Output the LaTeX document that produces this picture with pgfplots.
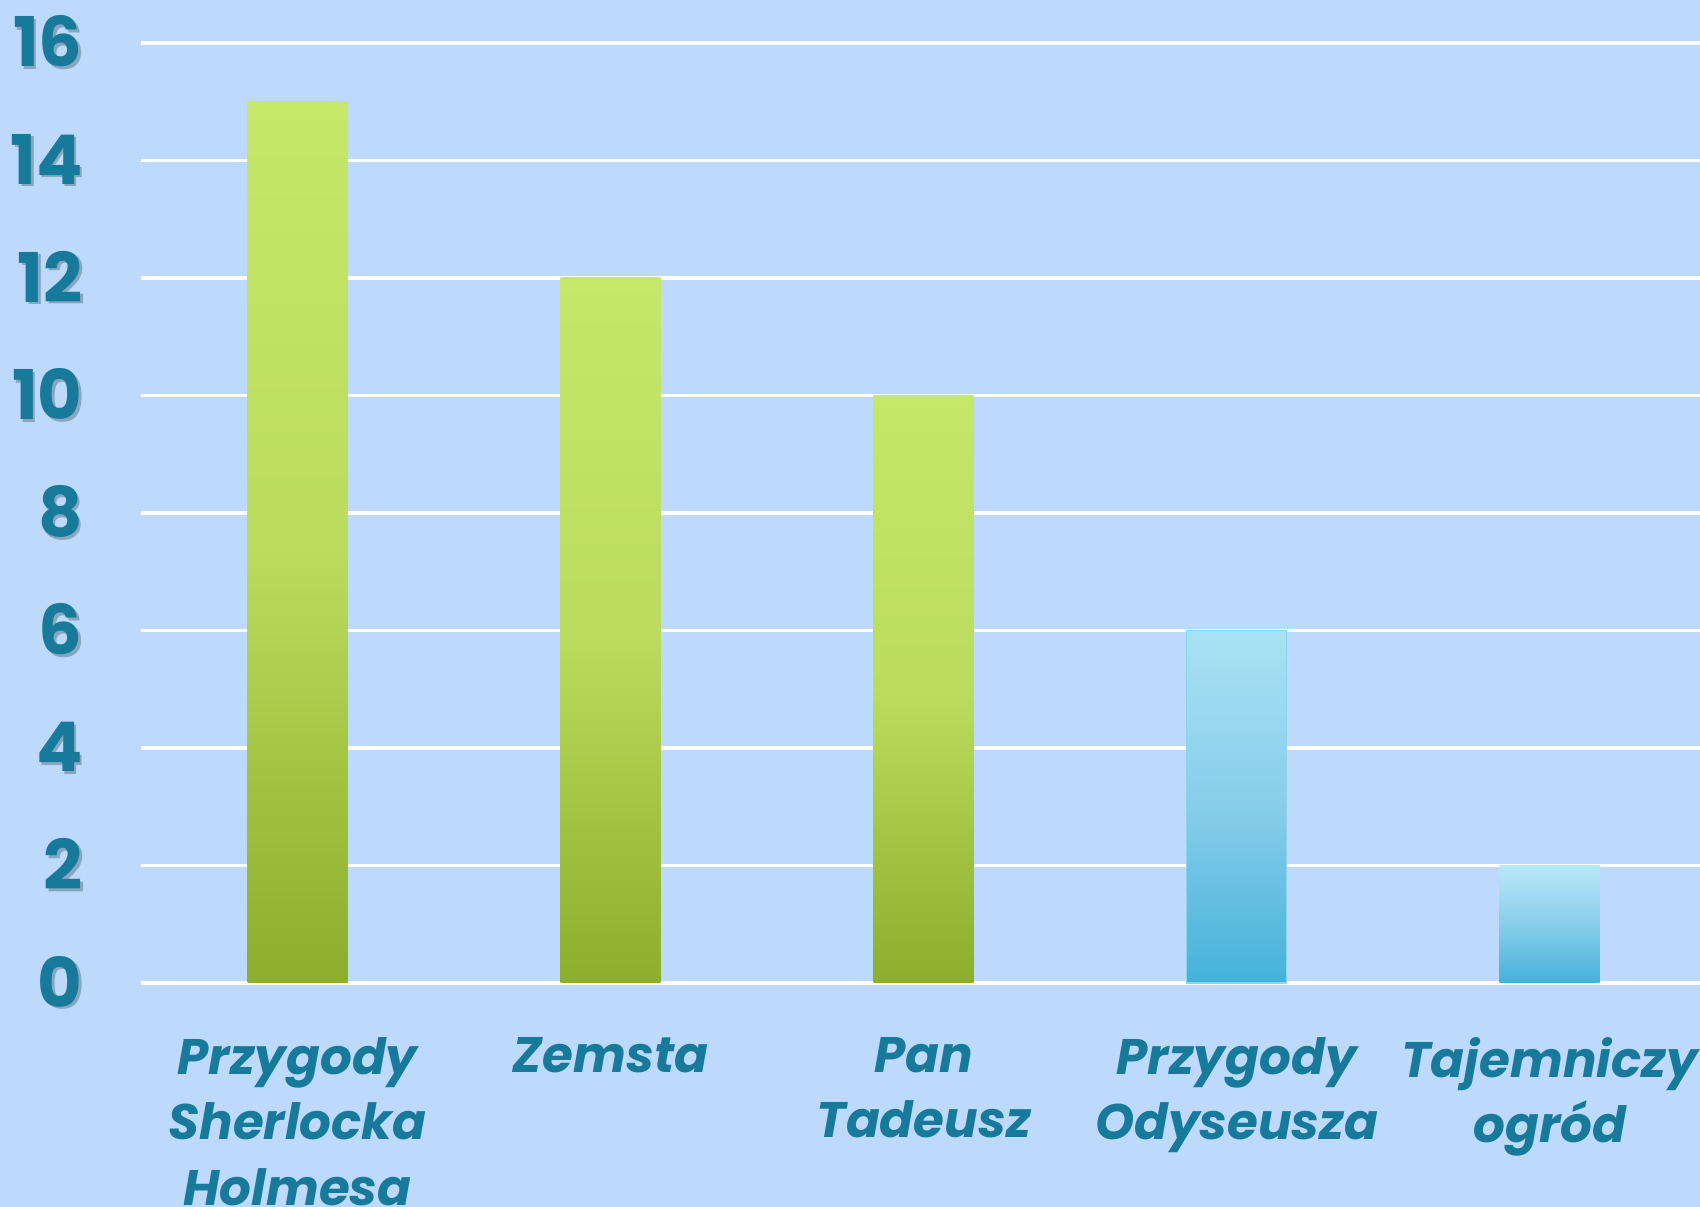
\documentclass[border=0pt]{standalone}
\usepackage{pgfplots}
\pgfplotsset{compat=1.18}
\usepackage{fontspec}
\setmainfont{Poppins}
\definecolor{bg}{HTML}{BDD9FB}
\definecolor{txt}{HTML}{177A9B}
\definecolor{shd}{HTML}{8AA6BE}
\definecolor{gtop}{HTML}{C5E86A}
\definecolor{gmid}{HTML}{BBDC5E}
\definecolor{gbot}{HTML}{8DAE2A}
\definecolor{btop}{HTML}{A8E2F4}
\definecolor{bmid}{HTML}{88CDEA}
\definecolor{bbot}{HTML}{44B2DA}
\newcommand{\sh}[1]{\rlap{\kern0.8pt\raisebox{-0.8pt}{\textcolor{shd}{#1}}}\textcolor{txt}{#1}}
\begin{document}
\begin{tikzpicture}
\fill[bg] (-14.1mm,-22.4mm) rectangle (155.9mm,98.3mm);
\begin{axis}[
  at={(0,0)}, anchor=south west,
  scale only axis, width=155.9mm, height=94mm,
  xmin=-0.5, xmax=4.48, ymin=0, ymax=16,
  axis line style={draw=none}, clip=false,
  ytick={0,2,...,16},
  ymajorgrids, grid style={white, line width=1.1pt},
  xtick={0,1,2,3,4},
  xticklabels={{Przygody\\Sherlocka\\Holmesa},{Zemsta},{Pan\\Tadeusz},{Przygody\\Odyseusza},{Tajemniczy\\ogród}},
  major tick length=0pt,
  xticklabel style={align=center, font=\fontsize{14.2}{18.6}\selectfont\bfseries\itshape, text=txt, anchor=north, yshift=-4.2mm},
  yticklabel style={font=\fontsize{19.5}{22}\selectfont\bfseries, anchor=east, xshift=-4.6mm},
  yticklabel={\sh{\pgfmathprintnumber{\tick}}},
  /pgf/number format/assume math mode=true,
  ybar, bar width=10mm, bar shift=0pt,
]
\addplot[draw=none, top color=gtop, bottom color=gbot, middle color=gmid] coordinates {(0,15)};
\addplot[draw=none, top color=gtop, bottom color=gbot, middle color=gmid] coordinates {(1,12)};
\addplot[draw=none, top color=gtop, bottom color=gbot, middle color=gmid] coordinates {(2,10)};
\addplot[draw=btop!70!bbot, line width=0.4pt, top color=btop, bottom color=bbot, middle color=bmid] coordinates {(3,6)};
\addplot[draw=none, top color=btop!80!white, bottom color=bbot, middle color=bmid] coordinates {(4,2)};
\end{axis}
\pgfresetboundingbox
\useasboundingbox (-14.1mm,-22.4mm) rectangle (155.9mm,98.3mm);
\end{tikzpicture}
\end{document}
